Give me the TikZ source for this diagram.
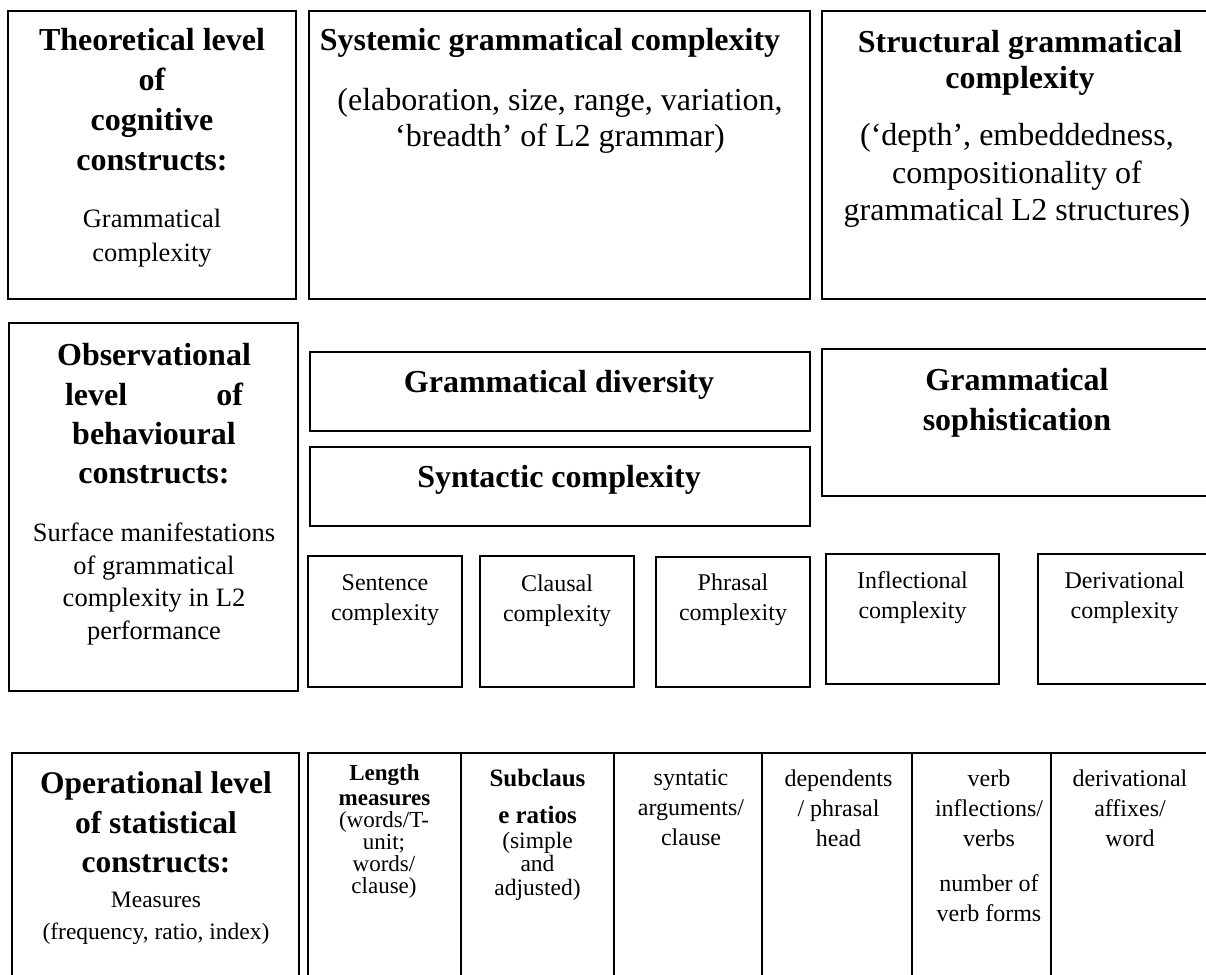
\documentclass[tikz,border=0pt]{standalone}
\usepackage{fontspec}
\setmainfont{Liberation Serif}
\newcommand\setfs[2]{\fontsize{#1}{#2}\selectfont}
\begin{document}
\begin{tikzpicture}[x=1pt,y=-1pt,
  box/.style={draw=black, line width=1.8pt, rectangle, inner sep=0pt, outer sep=0pt, anchor=north west},
  txt/.style={align=center, inner sep=0pt, anchor=north},
  hd/.style={txt, font=\setfs{32}{40}\bfseries},
  small/.style={txt, font=\setfs{24}{30}},
]
\useasboundingbox (0,0) rectangle (1206,974);
\clip (0,0) rectangle (1206,974);

% row 1
\node[box, minimum width=288pt, minimum height=288pt] (theo) at (8,11) {};
\node[box, minimum width=501pt, minimum height=288pt] (syst) at (309,11) {};
\node[box, minimum width=400pt, minimum height=288pt] (stru) at (822,11) {};
% row 2
\node[box, minimum width=289pt, minimum height=368pt] (obs) at (9,323) {};
\node[box, minimum width=500pt, minimum height=79pt] (gdiv) at (310,352) {};
\node[box, minimum width=500pt, minimum height=79pt] (synt) at (310,447) {};
\node[box, minimum width=400pt, minimum height=147pt] (soph) at (822,349) {};
\node[box, minimum width=154pt, minimum height=131pt] (sent) at (308,556) {};
\node[box, minimum width=154pt, minimum height=131pt] (clau) at (480,556) {};
\node[box, minimum width=154pt, minimum height=130pt] (phra) at (656,557) {};
\node[box, minimum width=173pt, minimum height=130pt] (infl) at (826,554) {};
\node[box, minimum width=180pt, minimum height=130pt] (deri) at (1038,554) {};
% row 3
\node[box, minimum width=287pt, minimum height=240pt] (oper) at (12,753) {};
\node[box, minimum width=153pt, minimum height=240pt] (c1) at (308,753) {};
\node[box, minimum width=153pt, minimum height=240pt] (c2) at (461,753) {};
\node[box, minimum width=148pt, minimum height=240pt] (c3) at (614,753) {};
\node[box, minimum width=150pt, minimum height=240pt] (c4) at (762,753) {};
\node[box, minimum width=139pt, minimum height=240pt] (c5) at (912,753) {};
\node[box, minimum width=160pt, minimum height=240pt] (c6) at (1051,753) {};

% texts row 1
\node[hd] (theoT) at (152,28.5) {Theoretical level\\of\\cognitive\\constructs:};
\node[txt, font=\setfs{26.5}{34}] (theoS) at (152,208.5) {Grammatical\\complexity};
\node[hd] (systT) at (550,28.5) {Systemic grammatical complexity};
\node[txt, font=\setfs{32}{35.5}] (systS) at (560,88.5) {(elaboration, size, range, variation,\\‘breadth’ of L2 grammar)};
\node[txt, font=\setfs{32}{36}\bfseries] (struT) at (1020,30.5) {Structural grammatical\\complexity};
\node[txt, font=\setfs{32}{37.5}] (struS) at (1017,123.5) {(‘depth’, embeddedness,\\compositionality of\\grammatical L2 structures)};

% texts row 2
\node[txt, font=\setfs{32}{39.3}\bfseries] (obsT) at (154,343.5) {Observational\\\makebox[178pt][s]{level\hfill of}\\behavioural\\constructs:};
\node[txt, font=\setfs{26.5}{32.7}] (obsS) at (154,522.5) {Surface manifestations\\of grammatical\\complexity in L2\\performance};
\node[hd] (gdivT) at (559,370.5) {Grammatical diversity};
\node[hd] (syntT) at (559,465.5) {Syntactic complexity};
\node[hd] (sophT) at (1017,368.5) {Grammatical\\sophistication};
\node[small] (sentT) at (385,574.4) {Sentence\\complexity};
\node[small] (clauT) at (557,574.4) {Clausal\\complexity};
\node[small] (phraT) at (733,573.4) {Phrasal\\complexity};
\node[small] (inflT) at (912.5,571.4) {Inflectional\\complexity};
\node[small] (deriT) at (1124.6,571.4) {Derivational\\complexity};

% texts row 3
\node[txt, font=\setfs{31.5}{39.5}\bfseries] (operT) at (156,771.5) {Operational level\\of statistical\\constructs:};
\node[txt, font=\setfs{23.5}{32}] (operS) at (156,891.5) {Measures\\(frequency, ratio, index)};
\node[txt, font=\setfs{23}{25}\bfseries] (lenT) at (384.5,764.7) {Length\\measures};
\node[txt, font=\setfs{23}{22}] (lenS) at (384,811.5) {(words/T-\\unit;\\words/\\clause)};
\node[txt, font=\setfs{25}{37}\bfseries] (subT) at (537.5,769) {Subclaus\\e ratios};
\node[txt, font=\setfs{23.5}{23.5}] (subS) at (537.5,831.5) {(simple\\and\\adjusted)};
\node[small] (synA) at (691,769.4) {syntatic\\arguments/\\clause};
\node[small] (depA) at (838.5,769.4) {dependents\\/ phrasal\\head};
\node[small] (verA) at (989,769.4) {verb\\inflections/\\verbs};
\node[small] (verB) at (989,874.4) {number of\\verb forms};
\node[small] (derA) at (1130,769.4) {derivational\\affixes/\\word};
\end{tikzpicture}
\end{document}
